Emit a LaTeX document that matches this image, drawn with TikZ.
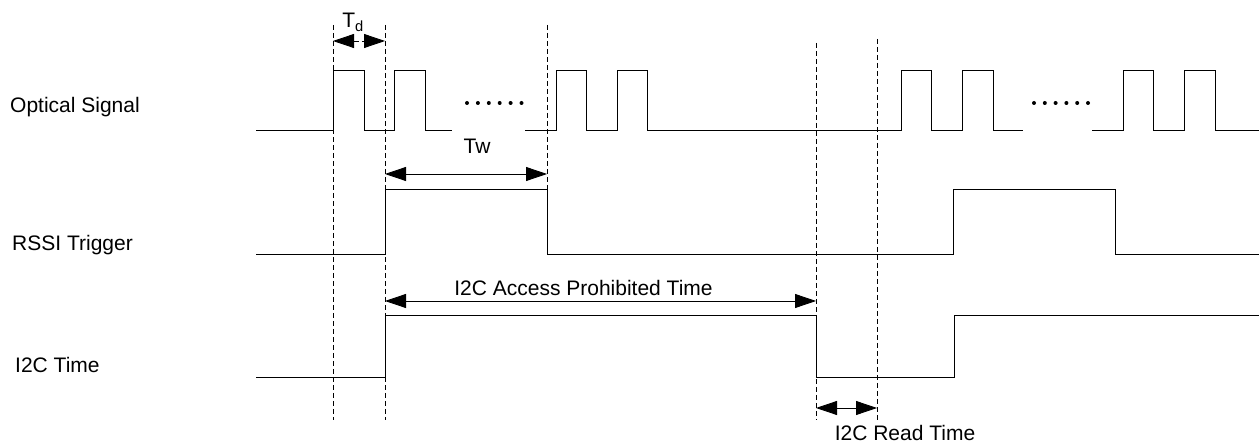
\documentclass[tikz,border=0pt]{standalone}
\usepackage{fontspec}
\setmainfont{Liberation Sans}
\usetikzlibrary{arrows.meta}

\begin{document}
\begin{tikzpicture}[line cap=butt,line join=miter,>={Triangle[length=21pt,width=14pt]},x=1pt,y=-1pt,
  font=\fontsize{21}{25}\selectfont,
  sig/.style={line width=1pt},
  guide/.style={line width=0.8pt,dash pattern=on 5pt off 3pt},
  lbl/.style={inner sep=0pt,anchor=base west},
  tag/.style={inner sep=0pt,anchor=base}]
\useasboundingbox (0,0) rectangle (1259,446);
\node[lbl] (optical) at (10,112.5) {Optical Signal};
\node[lbl] (rssi) at (12,250.5) {RSSI Trigger};
\node[lbl] (i2c) at (15,372.5) {I2C Time};
\coordinate (ta) at (333,25);
\coordinate (tb) at (385,25);
\coordinate (tc) at (547,25);
\coordinate (td) at (816,43);
\coordinate (te) at (877,39);
\draw [guide] (ta) -- (333,420);
\draw [guide] (tb) -- (385,420);
\draw [guide] (tc) -- (547,190);
\draw [guide] (td) -- (816,420);
\draw [guide] (te) -- (877,420);
\draw [sig] (256,131) -- (333,131) -- (333,71) -- (364,71) -- (364,131) -- (394,131) -- (394,71) -- (425,71) -- (425,131) -- (452,131);
\draw [sig] (525,131) -- (556,131) -- (556,71) -- (586,71) -- (586,131) -- (617,131) -- (617,71) -- (647,71) -- (647,131) -- (901,131) -- (901,71) -- (931,71) -- (931,131) -- (962,131) -- (962,71) -- (993,71) -- (993,131) -- (1023,131);
\draw [sig] (1092,131) -- (1123,131) -- (1123,71) -- (1153,71) -- (1153,131) -- (1184,131) -- (1184,71) -- (1215,71) -- (1215,131) -- (1259,131);
\foreach \k in {0,...,5} {
  \fill (467+\k*10.9,103) circle (2pt);
  \fill (1034+\k*10.8,103) circle (2pt);
}
\draw [sig] (256,255) -- (385,255) -- (385,190) -- (547,190) -- (547,255) -- (953,255) -- (953,190) -- (1115,190) -- (1115,255) -- (1259,255);
\draw [sig] (256,377.5) -- (385,377.5) -- (385,316) -- (816,316) -- (816,377.5) -- (954,377.5) -- (954,316) -- (1259,316);
\draw [<->,guide] (333,41) -- (385,41);
\draw [<->,line width=0.8pt] (385,174) -- (547,174);
\draw [<->,line width=0.8pt] (385,301) -- (816,301);
\draw [<->,line width=0.8pt] (816,408) -- (877,408);
\node[tag] (tdlabel) at (353,28) {T\textsubscript{d}};
\node[tag] (twlabel) at (477,154) {Tw};
\node[tag] (prohibited) at (583.5,296) {I2C Access Prohibited Time};
\node[tag] (readtime) at (905,440.5) {I2C Read Time};
\end{tikzpicture}
\end{document}
